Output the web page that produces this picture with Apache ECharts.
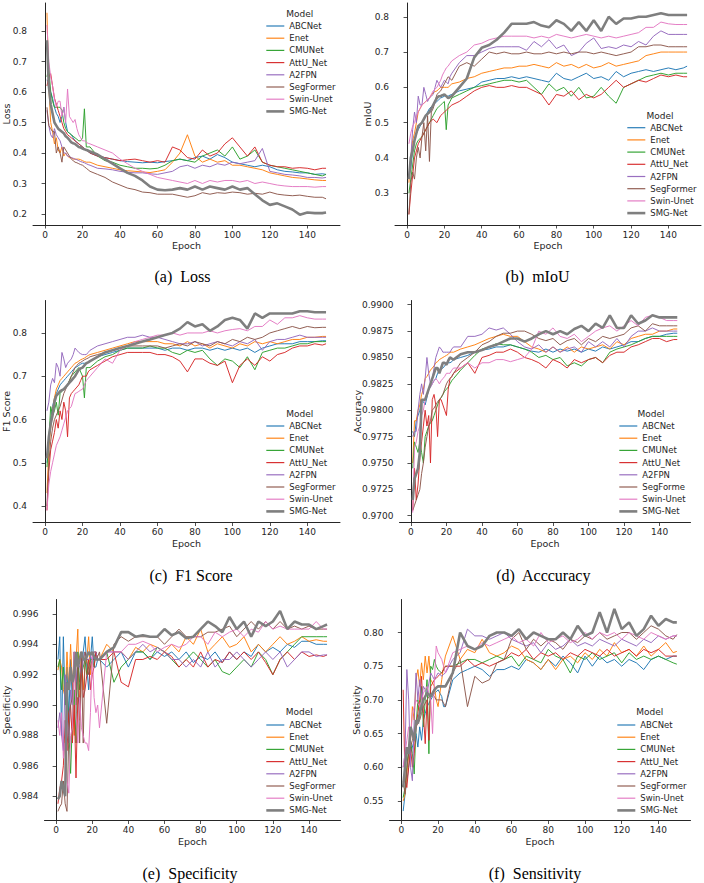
<!DOCTYPE html>
<html><head><meta charset="utf-8">
<script src="https://cdn.jsdelivr.net/npm/echarts@6/dist/echarts.min.js"></script>
<style>html,body{margin:0;padding:0;background:#fff}#c{width:704px;height:883px}</style>
</head><body><div id="c"></div>
<script>
// ---------- DATA ----------
const epochs = [1,2,3,4,5,6,7,8,9,10,11,12,13,14,15,16,17,18,19,20,21,22,23,24,28,32,36,40,44,48,52,56,60,64,68,72,76,80,84,88,92,96,100,104,108,112,116,120,124,128,132,136,140,144,148,150];
const models = ['ABCNet','Enet','CMUNet','AttU_Net','A2FPN','SegFormer','Swin-Unet','SMG-Net'];
const xTicks = [0,20,40,60,80,100,120,140];
const lossTicks = [0.2,0.3,0.4,0.5,0.6,0.7,0.8];
const miouTicks = [0.3,0.4,0.5,0.6,0.7,0.8];
const f1Ticks = [0.4,0.5,0.6,0.7,0.8];
const accTicks = [0.97,0.9725,0.975,0.9775,0.98,0.9825,0.985,0.9875,0.99];
const specTicks = [0.984,0.986,0.988,0.99,0.992,0.994,0.996];
const sensTicks = [0.55,0.6,0.65,0.7,0.75,0.8];

// (a) Loss
const lossABC = [0.64,0.63,0.60,0.58,0.55,0.53,0.52,0.50,0.52,0.55,0.50,0.47, 0.465,0.46,0.45,0.44,0.435,0.43,0.425,0.42,0.415,0.41,0.405,0.40, 0.39,0.385,0.38,0.375,0.372,0.37,0.368,0.37,0.368,0.372,0.375,0.38,0.375,0.385,0.39,0.38,0.395,0.385,0.37,0.365,0.36,0.355,0.36,0.355,0.345,0.34,0.338,0.335,0.335,0.33,0.332,0.33];
const lossEnet = [0.86,0.62,0.50,0.47,0.43,0.45,0.41,0.40,0.42,0.39,0.40,0.39, 0.385,0.385,0.38,0.38,0.38,0.38,0.378,0.375,0.372,0.37,0.37,0.37, 0.36,0.355,0.35,0.345,0.342,0.34,0.338,0.336,0.34,0.345,0.37,0.40,0.46,0.39,0.37,0.38,0.37,0.375,0.36,0.36,0.355,0.35,0.345,0.335,0.33,0.325,0.32,0.318,0.315,0.312,0.31,0.31];
const lossCMU = [0.65,0.68,0.60,0.57,0.55,0.55,0.55,0.55,0.54,0.50,0.48,0.47, 0.465,0.46,0.455,0.45,0.445,0.44,0.44,0.45,0.545,0.42,0.42,0.42, 0.39,0.375,0.37,0.36,0.355,0.35,0.35,0.348,0.35,0.36,0.375,0.38,0.375,0.37,0.39,0.40,0.41,0.39,0.42,0.38,0.39,0.41,0.37,0.36,0.355,0.35,0.345,0.34,0.335,0.33,0.325,0.33];
const lossAtt = [0.62,0.65,0.66,0.62,0.58,0.56,0.54,0.52,0.50,0.48,0.47,0.46, 0.455,0.45,0.445,0.44,0.435,0.43,0.425,0.42,0.415,0.41,0.405,0.40, 0.39,0.385,0.38,0.375,0.378,0.38,0.375,0.37,0.375,0.37,0.42,0.41,0.385,0.38,0.41,0.39,0.40,0.43,0.45,0.42,0.39,0.42,0.37,0.36,0.355,0.355,0.35,0.352,0.35,0.345,0.35,0.35];
const lossA2 = [0.54,0.49,0.46,0.45,0.48,0.46,0.45,0.44,0.42,0.40,0.40,0.39, 0.388,0.385,0.383,0.38,0.378,0.375,0.372,0.37,0.368,0.365,0.362,0.36, 0.35,0.348,0.345,0.34,0.337,0.335,0.335,0.332,0.33,0.335,0.34,0.355,0.36,0.35,0.36,0.355,0.365,0.36,0.37,0.365,0.37,0.375,0.415,0.34,0.335,0.33,0.328,0.325,0.32,0.32,0.318,0.32];
const lossSeg = [0.55,0.49,0.48,0.47,0.47,0.40,0.42,0.40,0.37,0.42,0.41,0.40, 0.39,0.38,0.375,0.37,0.368,0.365,0.362,0.36,0.355,0.35,0.345,0.34, 0.33,0.32,0.305,0.295,0.285,0.28,0.272,0.27,0.265,0.265,0.265,0.26,0.255,0.26,0.27,0.265,0.27,0.268,0.272,0.27,0.265,0.268,0.265,0.272,0.265,0.262,0.26,0.262,0.258,0.255,0.255,0.25];
const lossSwin = [0.82,0.70,0.65,0.62,0.58,0.55,0.57,0.57,0.52,0.55,0.50,0.61, 0.52,0.51,0.50,0.51,0.48,0.46,0.45,0.44,0.44,0.435,0.432,0.43, 0.42,0.41,0.40,0.38,0.365,0.35,0.34,0.33,0.32,0.315,0.31,0.305,0.30,0.31,0.30,0.31,0.305,0.31,0.31,0.305,0.31,0.30,0.305,0.30,0.295,0.292,0.29,0.29,0.29,0.288,0.29,0.29];
const lossSMG = [0.77,0.62,0.56,0.53,0.50,0.49,0.48,0.475,0.47,0.465,0.455,0.45, 0.443,0.435,0.432,0.43,0.425,0.42,0.418,0.415,0.412,0.41,0.408,0.405, 0.395,0.38,0.365,0.35,0.335,0.325,0.31,0.29,0.28,0.278,0.28,0.285,0.28,0.29,0.28,0.29,0.285,0.28,0.29,0.28,0.285,0.265,0.245,0.23,0.235,0.225,0.215,0.198,0.205,0.203,0.203,0.205];

// (b) mIoU
const miouABC = [0.35,0.37,0.42,0.45,0.47,0.48,0.49,0.50,0.51,0.52,0.53,0.54, 0.545,0.55,0.555,0.56,0.565,0.57,0.572,0.575,0.575,0.575,0.578,0.58, 0.59,0.595,0.60,0.615,0.62,0.625,0.625,0.63,0.625,0.63,0.625,0.62,0.615,0.64,0.625,0.62,0.63,0.64,0.625,0.63,0.62,0.645,0.63,0.64,0.645,0.65,0.645,0.65,0.655,0.65,0.655,0.66];
const miouEnet = [0.33,0.40,0.45,0.47,0.50,0.53,0.54,0.55,0.555,0.56,0.565,0.57, 0.578,0.585,0.588,0.59,0.595,0.60,0.60,0.60,0.60,0.60,0.605,0.61, 0.615,0.625,0.63,0.64,0.645,0.65,0.655,0.655,0.66,0.66,0.665,0.66,0.655,0.67,0.66,0.665,0.655,0.665,0.655,0.66,0.67,0.66,0.665,0.67,0.675,0.69,0.695,0.70,0.70,0.70,0.70,0.70];
const miouCMU = [0.30,0.34,0.38,0.42,0.44,0.45,0.455,0.46,0.47,0.48,0.49,0.50, 0.51,0.52,0.53,0.54,0.545,0.55,0.555,0.56,0.48,0.55,0.56,0.57, 0.58,0.59,0.60,0.605,0.61,0.615,0.62,0.62,0.615,0.62,0.60,0.58,0.61,0.59,0.60,0.575,0.60,0.57,0.575,0.60,0.575,0.555,0.60,0.61,0.62,0.63,0.635,0.64,0.635,0.64,0.64,0.64];
const miouAtt = [0.24,0.30,0.35,0.40,0.42,0.44,0.45,0.46,0.47,0.48,0.49,0.50, 0.505,0.51,0.505,0.50,0.51,0.52,0.525,0.53,0.535,0.54,0.545,0.55, 0.56,0.575,0.59,0.60,0.605,0.60,0.60,0.605,0.60,0.60,0.59,0.58,0.55,0.58,0.575,0.59,0.565,0.58,0.57,0.58,0.60,0.62,0.60,0.61,0.62,0.615,0.625,0.635,0.63,0.635,0.63,0.63];
const miouA2 = [0.35,0.40,0.48,0.53,0.50,0.575,0.55,0.55,0.60,0.58,0.56,0.57, 0.575,0.58,0.60,0.62,0.61,0.60,0.61,0.62,0.615,0.61,0.63,0.64, 0.67,0.69,0.69,0.70,0.71,0.715,0.715,0.715,0.715,0.705,0.73,0.715,0.735,0.71,0.72,0.69,0.70,0.725,0.74,0.71,0.715,0.71,0.72,0.715,0.73,0.72,0.745,0.76,0.75,0.75,0.75,0.75];
const miouSeg = [0.24,0.33,0.36,0.34,0.40,0.43,0.40,0.46,0.50,0.42,0.52,0.39, 0.53,0.54,0.56,0.58,0.585,0.59,0.60,0.61,0.62,0.63,0.625,0.62, 0.66,0.67,0.66,0.68,0.70,0.695,0.70,0.695,0.695,0.70,0.695,0.695,0.70,0.695,0.70,0.695,0.70,0.70,0.695,0.70,0.695,0.69,0.695,0.70,0.715,0.715,0.72,0.72,0.715,0.715,0.715,0.715];
const miouSwin = [0.44,0.47,0.49,0.50,0.52,0.53,0.54,0.55,0.555,0.56,0.565,0.57, 0.58,0.59,0.595,0.60,0.61,0.62,0.635,0.645,0.655,0.66,0.668,0.675, 0.69,0.70,0.72,0.725,0.735,0.74,0.745,0.745,0.745,0.745,0.74,0.745,0.74,0.75,0.745,0.74,0.745,0.75,0.745,0.74,0.745,0.74,0.745,0.75,0.755,0.77,0.77,0.785,0.78,0.778,0.778,0.778];
const miouSMG = [0.34,0.40,0.42,0.45,0.47,0.49,0.495,0.50,0.51,0.52,0.525,0.53, 0.54,0.55,0.56,0.57,0.575,0.575,0.578,0.58,0.575,0.57,0.572,0.575, 0.60,0.625,0.685,0.712,0.72,0.735,0.755,0.78,0.78,0.78,0.785,0.775,0.77,0.79,0.78,0.76,0.785,0.76,0.79,0.76,0.80,0.78,0.795,0.795,0.80,0.80,0.805,0.81,0.805,0.805,0.805,0.805];

// (c) F1 Score
const f1ABC = [0.50,0.56,0.60,0.63,0.65,0.66,0.67,0.68,0.685,0.69,0.695,0.70, 0.705,0.71,0.715,0.72,0.722,0.725,0.728,0.73,0.73,0.73,0.733,0.735, 0.745,0.75,0.755,0.76,0.765,0.765,0.765,0.765,0.765,0.76,0.765,0.765,0.76,0.765,0.765,0.76,0.765,0.76,0.765,0.76,0.765,0.755,0.765,0.77,0.775,0.775,0.775,0.78,0.78,0.78,0.782,0.782];
const f1Enet = [0.43,0.53,0.58,0.62,0.65,0.67,0.68,0.69,0.695,0.70,0.705,0.71, 0.715,0.72,0.725,0.73,0.732,0.735,0.738,0.74,0.742,0.745,0.748,0.75, 0.755,0.76,0.765,0.77,0.775,0.78,0.78,0.78,0.78,0.775,0.775,0.77,0.78,0.77,0.775,0.765,0.775,0.77,0.765,0.775,0.77,0.78,0.775,0.78,0.775,0.78,0.785,0.785,0.79,0.79,0.792,0.792];
const f1CMU = [0.49,0.55,0.63,0.61,0.62,0.64,0.61,0.66,0.665,0.67,0.675,0.68, 0.69,0.70,0.705,0.71,0.715,0.72,0.71,0.70,0.65,0.72,0.72,0.72, 0.735,0.745,0.75,0.76,0.765,0.765,0.765,0.77,0.765,0.765,0.755,0.75,0.76,0.755,0.76,0.74,0.725,0.74,0.735,0.72,0.745,0.715,0.755,0.76,0.765,0.765,0.77,0.775,0.775,0.78,0.78,0.78];
const f1Att = [0.39,0.48,0.53,0.55,0.57,0.60,0.58,0.62,0.60,0.64,0.62,0.56, 0.65,0.66,0.665,0.67,0.675,0.68,0.69,0.70,0.70,0.70,0.71,0.715, 0.725,0.735,0.745,0.75,0.755,0.755,0.755,0.755,0.75,0.75,0.745,0.735,0.71,0.74,0.74,0.73,0.725,0.735,0.685,0.725,0.74,0.725,0.745,0.735,0.75,0.755,0.765,0.77,0.77,0.775,0.772,0.775];
const f1A2 = [0.62,0.64,0.68,0.695,0.685,0.73,0.72,0.70,0.755,0.74,0.72,0.73, 0.735,0.74,0.75,0.765,0.76,0.755,0.752,0.75,0.75,0.75,0.755,0.76, 0.77,0.775,0.78,0.785,0.79,0.79,0.795,0.79,0.79,0.785,0.78,0.775,0.775,0.78,0.77,0.775,0.78,0.775,0.77,0.78,0.775,0.785,0.76,0.78,0.785,0.785,0.79,0.795,0.79,0.79,0.79,0.79];
const f1Seg = [0.40,0.50,0.55,0.58,0.60,0.61,0.62,0.63,0.645,0.66,0.67,0.68, 0.69,0.70,0.71,0.72,0.725,0.73,0.732,0.735,0.738,0.74,0.742,0.745, 0.75,0.755,0.76,0.765,0.77,0.77,0.77,0.77,0.77,0.765,0.77,0.775,0.77,0.78,0.775,0.77,0.78,0.775,0.785,0.78,0.79,0.785,0.79,0.80,0.805,0.81,0.815,0.81,0.815,0.812,0.813,0.813];
const f1Swin = [0.39,0.45,0.48,0.50,0.52,0.54,0.55,0.56,0.575,0.59,0.605,0.62, 0.625,0.63,0.645,0.66,0.662,0.665,0.668,0.67,0.68,0.69,0.695,0.70, 0.72,0.74,0.73,0.76,0.77,0.78,0.785,0.79,0.795,0.795,0.80,0.795,0.80,0.80,0.80,0.805,0.80,0.805,0.808,0.81,0.805,0.815,0.815,0.83,0.82,0.835,0.835,0.84,0.835,0.832,0.832,0.832];
const f1SMG = [0.51,0.56,0.59,0.61,0.64,0.655,0.66,0.665,0.668,0.67,0.675,0.68, 0.685,0.69,0.695,0.70,0.708,0.715,0.718,0.72,0.725,0.73,0.732,0.735, 0.745,0.755,0.76,0.765,0.77,0.775,0.78,0.785,0.79,0.795,0.80,0.81,0.825,0.815,0.82,0.805,0.815,0.83,0.835,0.83,0.81,0.845,0.835,0.845,0.845,0.845,0.845,0.85,0.85,0.848,0.848,0.848];

// (d) Accuracy
const accABC = [0.978,0.9775,0.979,0.9795,0.980,0.981,0.9808,0.9805,0.9812,0.982,0.9822,0.9825, 0.9828,0.983,0.9835,0.9838,0.9839,0.984,0.9842,0.9845,0.9845,0.9845,0.9846,0.9848, 0.985,0.9852,0.9855,0.9857,0.9858,0.986,0.986,0.9862,0.986,0.9858,0.9856,0.9855,0.9858,0.9855,0.9858,0.9856,0.9858,0.9855,0.9858,0.9856,0.986,0.9858,0.986,0.9862,0.9865,0.9865,0.9868,0.987,0.987,0.9872,0.9873,0.9873];
const accEnet = [0.975,0.979,0.979,0.980,0.9805,0.9815,0.982,0.983,0.9832,0.9835,0.9838,0.984, 0.9842,0.9845,0.9846,0.9848,0.9849,0.985,0.9851,0.9852,0.9853,0.9855,0.9855,0.9855, 0.9858,0.986,0.9862,0.9865,0.9868,0.987,0.9872,0.987,0.987,0.9865,0.986,0.9858,0.9855,0.986,0.9855,0.986,0.9855,0.986,0.9858,0.986,0.9862,0.9858,0.9865,0.9862,0.9868,0.987,0.9872,0.9872,0.9875,0.9875,0.9877,0.9877];
const accCMU = [0.9745,0.977,0.9765,0.976,0.977,0.976,0.975,0.9775,0.978,0.9785,0.9788,0.979, 0.9795,0.980,0.9805,0.981,0.9812,0.9815,0.9818,0.982,0.9822,0.9825,0.9828,0.983, 0.9838,0.9845,0.9852,0.9858,0.986,0.9863,0.9862,0.9862,0.986,0.9858,0.9855,0.985,0.9852,0.9848,0.985,0.9842,0.9845,0.9842,0.9848,0.985,0.9845,0.9855,0.9858,0.986,0.9862,0.9865,0.9868,0.987,0.987,0.987,0.987,0.987];
const accAtt = [0.9705,0.9745,0.9715,0.973,0.9755,0.977,0.9785,0.980,0.9785,0.9795,0.975,0.981, 0.9815,0.9805,0.9775,0.981,0.981,0.9805,0.980,0.9795,0.982,0.983,0.9832,0.9835, 0.984,0.9845,0.9835,0.985,0.9852,0.9855,0.9855,0.9858,0.9855,0.985,0.9848,0.9845,0.984,0.9848,0.9845,0.984,0.9848,0.9845,0.9848,0.985,0.9845,0.9852,0.9855,0.9855,0.986,0.9862,0.9865,0.9868,0.9868,0.9865,0.9867,0.9867];
const accA2 = [0.9775,0.978,0.978,0.980,0.9815,0.9825,0.9815,0.983,0.985,0.9835,0.9825,0.983, 0.984,0.985,0.9855,0.986,0.9858,0.9855,0.9855,0.9855,0.9855,0.9855,0.9858,0.986, 0.986,0.987,0.987,0.9872,0.9878,0.9876,0.9878,0.9872,0.9865,0.986,0.9858,0.9862,0.9855,0.986,0.9855,0.9858,0.986,0.9855,0.9865,0.986,0.9865,0.986,0.9868,0.986,0.987,0.9875,0.9875,0.9878,0.9875,0.9875,0.9875,0.9875];
const accSeg = [0.9705,0.971,0.9715,0.972,0.9725,0.974,0.975,0.9765,0.9775,0.9785,0.979,0.980, 0.9802,0.9805,0.9808,0.981,0.9812,0.9815,0.982,0.9825,0.9828,0.983,0.9832,0.9835, 0.9845,0.985,0.9855,0.9862,0.9865,0.987,0.9873,0.9873,0.9875,0.9875,0.9872,0.9868,0.9866,0.9868,0.9862,0.9866,0.9868,0.9862,0.9868,0.9865,0.987,0.9868,0.987,0.9872,0.9878,0.988,0.9875,0.9882,0.988,0.988,0.988,0.988];
const accSwin = [0.9703,0.9765,0.977,0.978,0.9785,0.9795,0.980,0.981,0.9815,0.982,0.9822,0.9825, 0.9828,0.983,0.9828,0.9825,0.9828,0.983,0.9832,0.9835,0.9835,0.9835,0.9838,0.984, 0.984,0.9845,0.984,0.9845,0.9845,0.9848,0.9848,0.9846,0.9848,0.985,0.9858,0.9875,0.9872,0.9878,0.987,0.9868,0.9872,0.9865,0.987,0.9875,0.9878,0.988,0.9875,0.988,0.9885,0.988,0.9888,0.989,0.9888,0.9885,0.9885,0.9885];
const accSMG = [0.9715,0.9735,0.974,0.9745,0.976,0.981,0.981,0.981,0.9815,0.982,0.9825,0.983, 0.9835,0.984,0.984,0.9835,0.984,0.9845,0.9845,0.9843,0.9847,0.985,0.9849,0.9848, 0.9853,0.9855,0.9855,0.9857,0.986,0.9862,0.9865,0.9868,0.9868,0.9865,0.9868,0.9872,0.9875,0.9872,0.9875,0.9872,0.9877,0.988,0.9875,0.9882,0.9878,0.989,0.9878,0.9878,0.989,0.9882,0.9885,0.989,0.9888,0.9888,0.9888,0.9888];

// (e) Specificity
const specABC = [0.993,0.9945,0.988,0.9945,0.990,0.9925,0.989,0.993,0.990,0.9935,0.991,0.993, 0.9915,0.992,0.9935,0.9945,0.9925,0.991,0.993,0.9945,0.9925,0.9925,0.993,0.993, 0.9925,0.993,0.9935,0.9925,0.9935,0.9935,0.993,0.9935,0.9932,0.9935,0.993,0.9935,0.9928,0.9932,0.993,0.9935,0.9928,0.9935,0.993,0.9935,0.9932,0.994,0.9935,0.9938,0.9935,0.994,0.9938,0.9942,0.9942,0.994,0.994,0.994];
const specEnet = [0.9923,0.993,0.9925,0.991,0.9905,0.9935,0.991,0.994,0.9915,0.988,0.993,0.995, 0.989,0.9935,0.991,0.9925,0.993,0.9945,0.992,0.993,0.9935,0.9935,0.993,0.993, 0.994,0.9935,0.9935,0.993,0.9938,0.9935,0.994,0.9938,0.9935,0.994,0.9935,0.9945,0.994,0.995,0.9935,0.994,0.9945,0.9938,0.994,0.9945,0.9935,0.994,0.9935,0.994,0.9945,0.994,0.9942,0.9945,0.9942,0.9943,0.9942,0.9942];
const specCMU = [0.9925,0.993,0.991,0.9925,0.990,0.9915,0.9885,0.9855,0.989,0.991,0.9875,0.9935, 0.991,0.992,0.9925,0.993,0.992,0.9925,0.993,0.993,0.9925,0.9935,0.993,0.993, 0.9935,0.9915,0.9925,0.993,0.9935,0.9935,0.993,0.9938,0.9935,0.993,0.9925,0.993,0.9935,0.993,0.9925,0.993,0.9922,0.992,0.9925,0.993,0.9925,0.9935,0.993,0.992,0.993,0.9935,0.994,0.9945,0.9945,0.9945,0.9945,0.9945];
const specAtt = [0.9835,0.9845,0.985,0.986,0.989,0.987,0.9895,0.990,0.9875,0.990,0.9852,0.9905, 0.990,0.9935,0.9905,0.991,0.992,0.993,0.991,0.992,0.9925,0.9935,0.993,0.993, 0.993,0.9935,0.9915,0.9912,0.993,0.993,0.9932,0.993,0.9935,0.9932,0.9925,0.993,0.9925,0.9935,0.9925,0.993,0.9928,0.9935,0.993,0.9935,0.993,0.9935,0.9928,0.992,0.993,0.9935,0.993,0.9935,0.9932,0.9933,0.9932,0.9933];
const specA2 = [0.9885,0.9895,0.988,0.987,0.992,0.9895,0.9875,0.991,0.990,0.9925,0.9915,0.993, 0.9925,0.992,0.993,0.9935,0.993,0.993,0.9932,0.993,0.9935,0.9935,0.993,0.993, 0.9935,0.9935,0.9935,0.993,0.9935,0.994,0.9935,0.9938,0.9935,0.993,0.993,0.9925,0.993,0.9925,0.9935,0.9925,0.993,0.993,0.9935,0.993,0.9925,0.993,0.9935,0.993,0.9935,0.9925,0.993,0.9935,0.9935,0.9932,0.9933,0.9933];
const specSeg = [0.983,0.9833,0.9835,0.985,0.9835,0.983,0.988,0.990,0.9905,0.9935,0.990,0.9925, 0.9875,0.993,0.9875,0.9935,0.993,0.992,0.9925,0.993,0.993,0.993,0.9932,0.9935, 0.9888,0.994,0.9945,0.9942,0.9945,0.9945,0.9945,0.9945,0.994,0.9945,0.995,0.9945,0.9945,0.9945,0.9948,0.9948,0.995,0.9952,0.9945,0.995,0.9955,0.995,0.9955,0.995,0.9955,0.995,0.9952,0.995,0.9952,0.995,0.995,0.995];
const specSwin = [0.989,0.988,0.9895,0.9865,0.9875,0.985,0.9842,0.988,0.9885,0.9935,0.9895,0.9875, 0.9905,0.9885,0.988,0.9875,0.9875,0.987,0.9895,0.9935,0.9905,0.9895,0.990,0.9885, 0.9935,0.9935,0.9935,0.994,0.994,0.9942,0.994,0.9935,0.9938,0.994,0.9938,0.994,0.9945,0.9945,0.994,0.9948,0.9945,0.9948,0.995,0.9945,0.995,0.9948,0.9955,0.995,0.9952,0.995,0.995,0.995,0.995,0.9955,0.995,0.995];
const specSMG = [0.9838,0.984,0.985,0.9845,0.984,0.9915,0.991,0.9925,0.9915,0.992,0.9935,0.9925, 0.993,0.9935,0.993,0.993,0.9932,0.9935,0.9933,0.9935,0.9932,0.993,0.993,0.993, 0.9935,0.9938,0.9948,0.9948,0.9945,0.9946,0.9945,0.9945,0.995,0.9946,0.9948,0.9944,0.9945,0.995,0.9955,0.9952,0.9948,0.9958,0.995,0.9955,0.9945,0.9955,0.9952,0.9955,0.9962,0.995,0.9955,0.9953,0.9953,0.995,0.9952,0.9953];

// (f) Sensitivity
const sensABC = [0.535,0.56,0.58,0.60,0.62,0.63,0.64,0.65,0.63,0.66,0.64,0.67, 0.68,0.69,0.695,0.70,0.705,0.71,0.712,0.715,0.71,0.705,0.69,0.69, 0.73,0.74,0.745,0.75,0.745,0.735,0.745,0.745,0.75,0.745,0.76,0.755,0.745,0.76,0.75,0.765,0.755,0.74,0.765,0.75,0.765,0.755,0.76,0.75,0.76,0.755,0.745,0.76,0.765,0.76,0.765,0.765];
const sensEnet = [0.55,0.56,0.59,0.62,0.64,0.69,0.67,0.73,0.745,0.72,0.755,0.73, 0.765,0.74,0.765,0.73,0.725,0.72,0.70,0.69,0.71,0.73,0.75,0.765, 0.795,0.76,0.775,0.77,0.79,0.77,0.765,0.77,0.78,0.775,0.76,0.755,0.745,0.76,0.745,0.76,0.765,0.755,0.77,0.76,0.775,0.765,0.785,0.77,0.775,0.765,0.78,0.765,0.775,0.785,0.77,0.772];
const sensCMU = [0.555,0.57,0.60,0.63,0.64,0.62,0.59,0.66,0.70,0.68,0.72,0.66, 0.70,0.73,0.62,0.75,0.745,0.76,0.75,0.745,0.742,0.74,0.745,0.75, 0.75,0.755,0.76,0.76,0.755,0.76,0.765,0.76,0.765,0.75,0.765,0.76,0.755,0.775,0.765,0.76,0.74,0.765,0.76,0.77,0.76,0.765,0.77,0.755,0.77,0.76,0.765,0.76,0.765,0.76,0.755,0.753];
const sensAtt = [0.715,0.58,0.57,0.60,0.63,0.60,0.62,0.66,0.68,0.70,0.735,0.68, 0.635,0.70,0.64,0.72,0.725,0.73,0.732,0.735,0.738,0.74,0.745,0.75, 0.75,0.75,0.76,0.75,0.755,0.75,0.755,0.76,0.77,0.765,0.775,0.76,0.77,0.765,0.77,0.76,0.77,0.765,0.775,0.77,0.765,0.775,0.765,0.77,0.775,0.765,0.775,0.77,0.775,0.765,0.765,0.765];
const sensA2 = [0.60,0.62,0.745,0.70,0.60,0.58,0.67,0.74,0.70,0.73,0.70,0.72, 0.715,0.71,0.725,0.74,0.735,0.73,0.735,0.74,0.738,0.735,0.738,0.74, 0.76,0.77,0.805,0.795,0.795,0.79,0.795,0.80,0.79,0.785,0.78,0.785,0.77,0.785,0.775,0.78,0.79,0.78,0.785,0.78,0.79,0.785,0.78,0.79,0.785,0.78,0.79,0.785,0.795,0.79,0.795,0.795];
const sensSeg = [0.58,0.56,0.60,0.62,0.63,0.64,0.65,0.66,0.665,0.67,0.68,0.69, 0.695,0.70,0.705,0.71,0.708,0.705,0.70,0.70,0.70,0.70,0.695,0.69, 0.74,0.76,0.69,0.735,0.725,0.73,0.755,0.76,0.79,0.80,0.775,0.79,0.78,0.79,0.785,0.775,0.79,0.785,0.795,0.79,0.80,0.79,0.795,0.80,0.80,0.79,0.80,0.81,0.805,0.795,0.79,0.797];
const sensSwin = [0.60,0.62,0.64,0.66,0.64,0.68,0.69,0.70,0.695,0.69,0.70,0.71, 0.715,0.72,0.71,0.70,0.65,0.73,0.78,0.77,0.765,0.76,0.75,0.74, 0.77,0.775,0.78,0.775,0.785,0.78,0.785,0.79,0.795,0.785,0.79,0.78,0.80,0.785,0.79,0.795,0.785,0.79,0.80,0.79,0.80,0.795,0.80,0.79,0.80,0.795,0.79,0.80,0.795,0.79,0.795,0.795];
const sensSMG = [0.57,0.60,0.63,0.62,0.66,0.65,0.64,0.67,0.665,0.68,0.69,0.70, 0.705,0.71,0.708,0.705,0.71,0.715,0.718,0.72,0.72,0.72,0.72,0.72, 0.74,0.80,0.78,0.775,0.78,0.795,0.80,0.80,0.795,0.805,0.79,0.80,0.795,0.79,0.79,0.80,0.79,0.81,0.795,0.80,0.83,0.80,0.835,0.805,0.815,0.795,0.805,0.825,0.81,0.82,0.815,0.815];

// ---------- LAYOUT / STYLE ----------
const colors = ['#1f77b4','#ff7f0e','#2ca02c','#d62728','#9467bd','#8c564b','#e377c2','#7f7f7f'];
const FONT = 'DejaVu Sans';
const INK = '#262626';

const panels = [
  {name:'Loss', series:[lossABC,lossEnet,lossCMU,lossAtt,lossA2,lossSeg,lossSwin,lossSMG], ticks:lossTicks, dec:1,
   min:0.164, max:0.892, grid:{left:33, top:3, width:307, height:222}, nameGap:22,
   leg:{left:265, top:21}, legTitle:[299.7,14], cap:'(a)  Loss', capPos:[182.5,276.5]},
  {name:'mIoU', series:[miouABC,miouEnet,miouCMU,miouAtt,miouA2,miouSeg,miouSwin,miouSMG], ticks:miouTicks, dec:1,
   min:0.21, max:0.839, grid:{left:395, top:3, width:306, height:222}, nameGap:23,
   leg:{left:626, top:122.7}, legTitle:[660,115.7], cap:'(b)  mIoU', capPos:[537.5,276.5]},
  {name:'F1 Score', series:[f1ABC,f1Enet,f1CMU,f1Att,f1A2,f1Seg,f1Swin,f1SMG], ticks:f1Ticks, dec:1,
   min:0.362, max:0.875, grid:{left:33, top:300.5, width:307, height:222}, nameGap:22,
   leg:{left:265, top:421}, legTitle:[299.7,414], cap:'(c)  F1 Score', capPos:[191,575]},
  {name:'Accuracy', series:[accABC,accEnet,accCMU,accAtt,accA2,accSeg,accSwin,accSMG], ticks:accTicks, dec:4,
   min:0.96936, max:0.9904, grid:{left:399.5, top:300.5, width:291, height:222}, nameGap:37.5,
   leg:{left:618, top:421}, legTitle:[651,414], cap:'(d)  Acccuracy', capPos:[543.3,575], truncSeg:true},
  {name:'Specificity', series:[specABC,specEnet,specCMU,specAtt,specA2,specSeg,specSwin,specSMG], ticks:specTicks, dec:3,
   min:0.9824, max:0.99695, grid:{left:44.5, top:599.5, width:296, height:221}, nameGap:33.5,
   leg:{left:265, top:720}, legTitle:[299.3,712.3], cap:'(e)  Specificity', capPos:[190,873.3]},
  {name:'Sensitivity', series:[sensABC,sensEnet,sensCMU,sensAtt,sensA2,sensSeg,sensSwin,sensSMG], ticks:sensTicks, dec:2,
   min:0.521, max:0.849, grid:{left:389.5, top:599.5, width:301, height:221}, nameGap:28.5,
   leg:{left:616, top:720}, legTitle:[649.7,712.3], cap:'(f)  Sensitivity', capPos:[535,873.3]}
];

const grids = [], xAxes = [], yAxes = [], series = [], legends = [], graphics = [];
panels.forEach((p, pi) => {
  grids.push(Object.assign({outerBoundsMode:'none', containLabel:false}, p.grid));
  xAxes.push({
    type:'value', gridIndex:pi, min:-6.45, max:157.45,
    name:'Epoch', nameLocation:'middle', nameGap:15.5, nameMoveOverlap:false,
    nameTextStyle:{fontFamily:FONT, fontSize:9.5, color:INK},
    axisLine:{show:true, lineStyle:{color:INK, width:1}},
    axisTick:{show:true, length:3.5, customValues:xTicks, lineStyle:{color:INK, width:0.8}},
    axisLabel:{customValues:xTicks, fontFamily:FONT, fontSize:9, color:INK, margin:5},
    splitLine:{show:false}
  });
  yAxes.push({
    type:'value', gridIndex:pi, min:p.min, max:p.max,
    name:p.name, nameLocation:'middle', nameGap:p.nameGap, nameRotate:90, nameMoveOverlap:false,
    nameTextStyle:{fontFamily:FONT, fontSize:9.5, color:INK},
    axisLine:{show:true, lineStyle:{color:INK, width:1}},
    axisTick:{show:true, length:3.5, customValues:p.ticks, lineStyle:{color:INK, width:0.8}},
    axisLabel:{customValues:p.ticks, fontFamily:FONT, fontSize:9, color:INK, margin:6,
               formatter: v => Number(v).toFixed(p.dec)},
    splitLine:{show:false}
  });
  p.series.forEach((arr, k) => {
    if (arr.length !== epochs.length) { window.__bad = (window.__bad||'') + p.name + ':' + models[k] + '=' + arr.length + ' '; }
    series.push({
      type:'line', name:models[k], xAxisIndex:pi, yAxisIndex:pi,
      data: epochs.map((e, i) => [e, arr[i]]),
      symbol:'none', showSymbol:false, silent:true, animation:false,
      lineStyle:{color:colors[k], width: k === 7 ? 2.6 : 1.0, opacity: k === 7 ? 1 : 0.95},
      itemStyle:{color:colors[k]},
      emphasis:{disabled:true}
    });
  });
  legends.push({
    orient:'vertical', left:p.leg.left, top:p.leg.top,
    itemWidth:18, itemHeight:10, itemGap:2.2, padding:0,
    selectedMode:false,
    itemStyle:{opacity:0, borderWidth:0},
    data: models.map((m, k) => ({name:m, lineStyle:{width: k === 7 ? 2.6 : 1.2}, itemStyle:{opacity:0, borderWidth:0}})),
    textStyle:{fontFamily:FONT, fontSize:8.5, color:INK, lineHeight:10},
    formatter: p.truncSeg ? (n => n === 'SegFormer' ? 'SegForme' : n) : (n => n)
  });
  graphics.push({type:'text', x:p.legTitle[0], y:p.legTitle[1],
    style:{text:'Model', fill:INK, font:'9px "DejaVu Sans"', textAlign:'center', textVerticalAlign:'middle'}});
  graphics.push({type:'text', x:p.capPos[0], y:p.capPos[1],
    style:{text:p.cap, fill:'#000', font:'16px "Liberation Serif"', textAlign:'center', textVerticalAlign:'middle'}});
});

const chart = echarts.init(document.getElementById('c'), null, {renderer:'svg', width:704, height:883});
chart.setOption({
  backgroundColor:'#ffffff', animation:false,
  grid:grids, xAxis:xAxes, yAxis:yAxes, series:series, legend:legends, graphic:graphics
});
if (window.__bad) { throw new Error('Length mismatch: ' + window.__bad); }
</script>
</body></html>
